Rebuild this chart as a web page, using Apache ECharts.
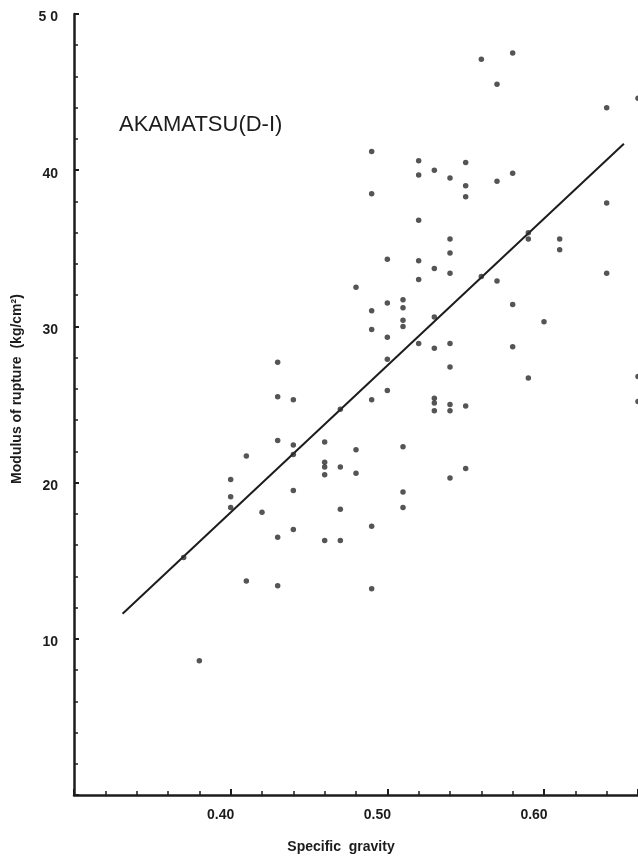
<!DOCTYPE html>
<html>
<head>
<meta charset="utf-8">
<script src="https://cdn.jsdelivr.net/npm/echarts@6/dist/echarts.min.js"></script>
<style>
html,body{margin:0;padding:0;background:#fff;}
#chart{width:638px;height:860px;}
</style>
</head>
<body>
<div id="chart"></div>
<script>
// Specific gravity (x) of each specimen
const gravity = [
  0.56,0.58,0.57,0.64,0.66,0.49,0.52,0.52,0.53,0.54,0.55,0.55,0.55,0.57,0.58,0.49,
  0.52,0.64,0.54,0.54,0.50,0.52,0.53,0.54,0.52,0.48,0.51,0.59,0.59,0.61,0.61,0.56,
  0.57,0.64,0.49,0.50,0.51,0.51,0.51,0.53,0.58,0.60,0.49,0.50,0.52,0.53,0.54,0.58,
  0.50,0.54,0.59,0.66,0.66,0.47,0.49,0.50,0.53,0.53,0.53,0.54,0.54,0.55,0.48,0.47,
  0.48,0.51,0.55,0.54,0.51,0.51,0.47,0.47,0.49,0.49,0.43,0.43,0.44,0.43,0.44,0.44,
  0.41,0.46,0.46,0.46,0.46,0.40,0.40,0.40,0.42,0.44,0.44,0.43,0.46,0.37,0.41,0.43,
  0.38
];
// Modulus of rupture (kg/cm2) of each specimen
const rupture = [
  47.1,47.5,45.5,44.0,44.6,41.2,40.6,39.7,40.0,39.5,40.5,39.0,38.3,39.3,39.8,38.5,
  36.8,37.9,35.6,34.7,34.3,34.2,33.7,33.4,33.0,32.5,31.7,36.0,35.6,35.6,34.9,33.2,
  32.9,33.4,31.0,31.5,31.2,30.4,30.0,30.6,31.4,30.3,29.8,29.3,28.9,28.6,28.9,28.7,
  27.9,27.4,26.7,26.8,25.2,24.7,25.3,25.9,25.4,25.1,24.6,25.0,24.6,24.9,22.1,21.0,
  20.6,22.3,20.9,20.3,19.4,18.4,18.3,16.3,17.2,13.2,27.7,25.5,25.3,22.7,22.4,21.8,
  21.7,22.6,21.3,21.0,20.5,20.2,19.1,18.4,18.1,19.5,17.0,16.5,16.3,15.2,13.7,13.4,
  8.6
];
// Regression line end points
const fitX = [0.331, 0.651];
const fitY = [11.6, 41.7];
// Tick labels
const xTickLabels = ['0.40','0.50','0.60'];
const yTickLabels = ['10','20','30','40','5 0'];
const yTickValues = [10,20,30,40,50];

const chart = echarts.init(document.getElementById('chart'), null, {renderer:'canvas'});
const ink = '#1c1c1c';
const points = gravity.map((g,i)=>[g, rupture[i]]);
const fitLine = fitX.map((x,i)=>[x, fitY[i]]);

chart.setOption({
  backgroundColor:'#ffffff',
  animation:false,
  grid:{left:74, top:14, width:565, height:781, containLabel:false},
  xAxis:{
    type:'value', min:0.30, max:0.66, interval:0.1,
    axisLine:{show:true, onZero:false, lineStyle:{color:ink, width:2.5}},
    axisTick:{show:true, inside:true, length:6, lineStyle:{color:ink, width:2}},
    minorTick:{show:true, splitNumber:5, length:4, lineStyle:{color:ink, width:1.5}},
    splitLine:{show:false},
    axisLabel:{
      margin:13, color:ink, fontSize:14, fontWeight:'bold',
      fontFamily:'Liberation Sans', padding:[0,20,0,0],
      showMinLabel:true, showMaxLabel:false,
      formatter:function(v){
        const s = v.toFixed(2);
        return xTickLabels.indexOf(s) >= 0 ? s : '';
      }
    }
  },
  yAxis:{
    type:'value', min:0, max:50, interval:10,
    axisLine:{show:true, lineStyle:{color:ink, width:2.5}},
    axisTick:{show:true, inside:true, length:5, lineStyle:{color:ink, width:2}},
    minorTick:{show:true, splitNumber:5, length:4, lineStyle:{color:ink, width:1.5}},
    splitLine:{show:false},
    axisLabel:{
      margin:16, color:ink, fontSize:14, fontWeight:'bold',
      fontFamily:'Liberation Sans',
      rich:{ t:{ padding:[7,0,0,0], color:ink, fontSize:14, fontWeight:'bold', fontFamily:'Liberation Sans' } },
      formatter:function(v){
        const k = yTickValues.indexOf(v);
        return k >= 0 ? '{t|' + yTickLabels[k] + '}' : '';
      }
    }
  },
  series:[
    {
      type:'scatter', data:points, symbol:'circle', symbolSize:5.5,
      itemStyle:{color:'#2a2a2a'}, z:3
    },
    {
      type:'line', data:fitLine, symbol:'none',
      lineStyle:{color:ink, width:2}, z:2
    }
  ],
  graphic:[
    {
      type:'text', left:119, top:114,
      style:{text:'AKAMATSU(D-I)', fill:ink, font:'22px "Liberation Sans", sans-serif'}
    },
    {
      type:'text', x:17, y:389, rotation:Math.PI/2,
      style:{text:'Modulus of rupture  (kg/cm²)', fill:ink,
        font:'bold 14px "Liberation Sans", sans-serif', align:'center', verticalAlign:'middle'}
    },
    {
      type:'text', x:341, y:847,
      style:{text:'Specific  gravity', fill:ink,
        font:'bold 14px "Liberation Sans", sans-serif', align:'center', verticalAlign:'middle'}
    }
  ]
});
</script>
</body>
</html>
